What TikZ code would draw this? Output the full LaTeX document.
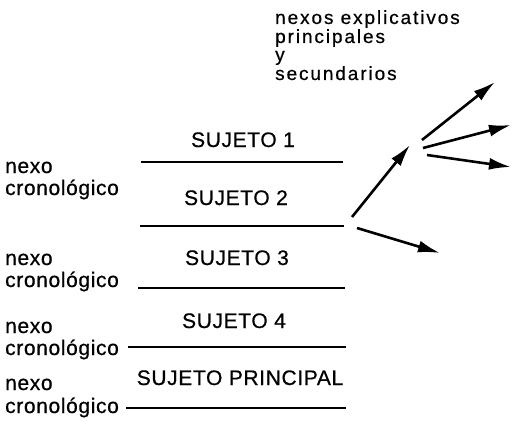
\documentclass[tikz,border=0pt]{standalone}
\usepackage{fontspec}
\setmainfont[LetterSpace=3,FakeBold=0.6]{Liberation Sans}
\usetikzlibrary{arrows.meta}
\begin{document}
\begin{tikzpicture}[x=1pt,y=-1pt,
  lbl/.style={inner sep=0pt,font=\fontsize{21}{24}\selectfont},
  toplbl/.style={inner sep=0pt,font=\fontsize{19}{22}\selectfont\addfontfeature{LetterSpace=10}},
  rule/.style={line width=2.6pt},
  arr/.style={line width=2.6pt,-{Latex[length=22pt,width=12pt]}}]
\useasboundingbox (0,0) rectangle (512,428);
% top text
\node[toplbl,anchor=base west] (t1) at (275,24) {nexos explicativos};
\node[toplbl,anchor=base west] (t2) at (275,43) {principales};
\node[toplbl,anchor=base west] (t3) at (275,61) {y};
\node[toplbl,anchor=base west] (t4) at (275,80) {secundarios};
% subjects
\node[lbl,anchor=base] (s1) at (243,147) {SUJETO 1};
\node[lbl,anchor=base] (s2) at (236,205) {SUJETO 2};
\node[lbl,anchor=base] (s3) at (237,265) {SUJETO 3};
\node[lbl,anchor=base] (s4) at (234,328) {SUJETO 4};
\node[lbl,anchor=base] (s5) at (240,385) {SUJETO PRINCIPAL};
% left labels
\node[lbl,anchor=base west] (n1) at (5,173) {nexo};
\node[lbl,anchor=base west] (c1) at (5,195) {cronológico};
\node[lbl,anchor=base west] (n2) at (5,265) {nexo};
\node[lbl,anchor=base west] (c2) at (5,287) {cronológico};
\node[lbl,anchor=base west] (n3) at (5,333) {nexo};
\node[lbl,anchor=base west] (c3) at (5,355) {cronológico};
\node[lbl,anchor=base west] (n4) at (5,390) {nexo};
\node[lbl,anchor=base west] (c4) at (5,413) {cronológico};
% rules
\coordinate (l1a) at (141,162); \coordinate (l1b) at (343,162);
\coordinate (l2a) at (140,226); \coordinate (l2b) at (344,226);
\coordinate (l3a) at (138,288); \coordinate (l3b) at (345,288);
\coordinate (l4a) at (128,347); \coordinate (l4b) at (346,347);
\coordinate (l5a) at (126,408); \coordinate (l5b) at (346,408);
\draw[rule] (l1a) -- (l1b);
\draw[rule] (l2a) -- (l2b);
\draw[rule] (l3a) -- (l3b);
\draw[rule] (l4a) -- (l4b);
\draw[rule] (l5a) -- (l5b);
% arrows
\coordinate (aS) at (352,217); \coordinate (aT) at (410,145);
\coordinate (bS) at (422,140); \coordinate (bT) at (495,82);
\coordinate (cS) at (423,148); \coordinate (cT) at (511,125);
\coordinate (dS) at (427,155); \coordinate (dT) at (511,167);
\coordinate (eS) at (357,228); \coordinate (eT) at (440,253);
\draw[arr] (aS) -- (aT);
\draw[arr] (bS) -- (bT);
\draw[arr] (cS) -- (cT);
\draw[arr] (dS) -- (dT);
\draw[arr] (eS) -- (eT);
\end{tikzpicture}
\end{document}
